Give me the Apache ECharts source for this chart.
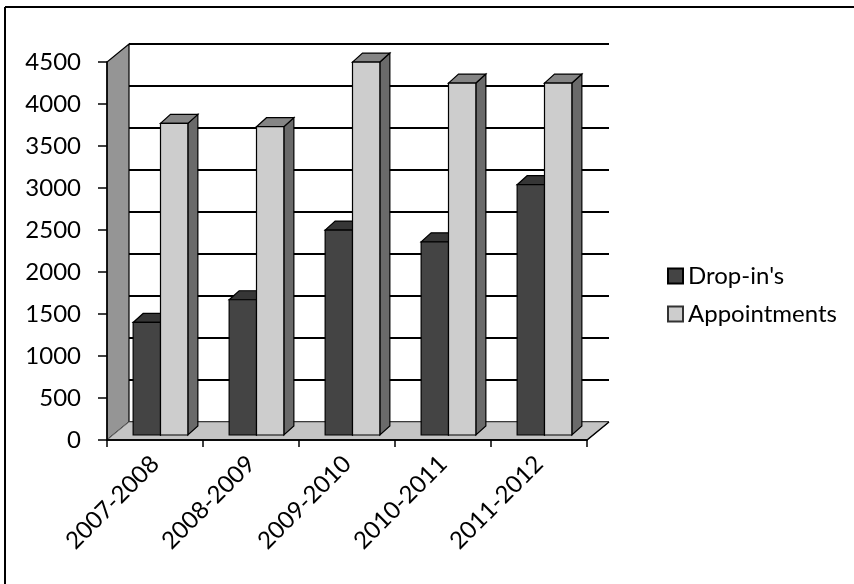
<!DOCTYPE html>
<html>
<head>
<meta charset="utf-8">
<script src="https://cdn.jsdelivr.net/npm/echarts@6/dist/echarts.min.js"></script>
<style>
html,body{margin:0;padding:0;background:#fff;}
#chart{width:854px;height:584px;}
</style>
</head>
<body>
<div id="chart"></div>
<script>
const categories = ['2007-2008', '2008-2009', '2009-2010', '2010-2011', '2011-2012'];
const dropIns = [1340, 1610, 2440, 2300, 2980];
const appointments = [3710, 3670, 4440, 4190, 4190];
const seriesNames = ["Drop-in's", 'Appointments'];
const yTickValues = [0, 500, 1000, 1500, 2000, 2500, 3000, 3500, 4000, 4500];

const FONT = 'Lato';
const DEPTH_X = 22, DEPTH_Y = -18;   // wall depth offset
const BAR_FX = 5.5, BAR_FY = -5;     // bar front-face offset from front plane
const BAR_DX = 10, BAR_DY = -9;      // bar depth

function wallsRender(params, api) {
  const cs = params.coordSys;
  const L = cs.x, R = cs.x + cs.width;
  const B = api.coord([0, 0])[1];
  const T = api.coord([0, yTickValues[yTickValues.length - 1]])[1];
  const children = [];
  children.push({
    type: 'polygon',
    shape: { points: [[L, B], [L + DEPTH_X, B + DEPTH_Y], [L + DEPTH_X, T + DEPTH_Y], [L, T]] },
    style: { fill: '#959595', stroke: '#000', lineWidth: 1.2 }
  });
  yTickValues.forEach(function (v) {
    const y = api.coord([0, v])[1] + DEPTH_Y;
    children.push({
      type: 'line',
      shape: { x1: L + DEPTH_X, y1: y, x2: R + DEPTH_X, y2: y },
      style: { stroke: '#000', lineWidth: v === yTickValues[yTickValues.length - 1] ? 2.2 : 1.8 }
    });
  });
  children.push({
    type: 'polygon',
    shape: { points: [[L, B], [R, B], [R + DEPTH_X, B + DEPTH_Y], [L + DEPTH_X, B + DEPTH_Y]] },
    style: { fill: '#c4c4c4', stroke: '#777', lineWidth: 1 }
  });
  children.push({
    type: 'polyline',
    shape: { points: [[L, B], [R, B], [R + DEPTH_X, B + DEPTH_Y]] },
    style: { stroke: '#000', lineWidth: 1.5, fill: null }
  });
  return { type: 'group', children: children };
}

function barRender(slot, frontColor, topColor, sideColor) {
  return function (params, api) {
    const cat = api.value(0), v = api.value(1);
    const top = api.coord([cat, v]);
    const base = api.coord([cat, 0]);
    const band = api.size([1, 0])[0];
    const w = band * 0.285;
    const cx = top[0] + BAR_FX;
    const x0 = slot === 0 ? cx - w : cx;
    const x1 = x0 + w;
    const yt = top[1] + BAR_FY;
    const yb = base[1] + BAR_FY;
    return {
      type: 'group',
      children: [
        {
          type: 'polygon',
          shape: { points: [[x1, yt], [x1 + BAR_DX, yt + BAR_DY], [x1 + BAR_DX, yb + BAR_DY], [x1, yb]] },
          style: { fill: sideColor, stroke: '#000', lineWidth: 1.2 }
        },
        {
          type: 'polygon',
          shape: { points: [[x0, yt], [x1, yt], [x1 + BAR_DX, yt + BAR_DY], [x0 + BAR_DX, yt + BAR_DY]] },
          style: { fill: topColor, stroke: '#000', lineWidth: 1.2 }
        },
        {
          type: 'rect',
          shape: { x: x0, y: yt, width: w, height: yb - yt },
          style: { fill: frontColor, stroke: '#000', lineWidth: 1.2 }
        }
      ]
    };
  };
}

const chart = echarts.init(document.getElementById('chart'), null, { renderer: 'canvas' });
chart.setOption({
  animation: false,
  backgroundColor: '#fff',
  textStyle: { fontFamily: FONT },
  graphic: [
    { type: 'line', shape: { x1: 5, y1: 7, x2: 854, y2: 7 }, style: { stroke: '#000', lineWidth: 2 } },
    { type: 'line', shape: { x1: 5, y1: 7, x2: 5, y2: 584 }, style: { stroke: '#000', lineWidth: 2 } }
  ],
  grid: { left: 107, right: 267, top: 62, bottom: 144, containLabel: false },
  legend: {
    data: seriesNames,
    orient: 'vertical',
    left: 662,
    top: 257,
    icon: 'rect',
    itemWidth: 15,
    itemHeight: 15,
    itemGap: 10,
    textStyle: { fontFamily: FONT, fontSize: 24, color: '#000', lineHeight: 28 }
  },
  xAxis: {
    type: 'category',
    data: categories,
    z: 10,
    axisLine: { show: true, lineStyle: { color: '#000', width: 1.5 } },
    axisTick: { show: true, length: 7, alignWithLabel: false, lineStyle: { color: '#000', width: 1.5 } },
    axisLabel: { rotate: 45, margin: 20, fontFamily: FONT, fontSize: 24, color: '#000', interval: 0 },
    splitLine: { show: false }
  },
  yAxis: {
    type: 'value',
    min: 0,
    max: 4500,
    interval: 500,
    z: 10,
    axisLine: { show: true, lineStyle: { color: '#000', width: 1.5 } },
    axisTick: { show: true, length: 9, lineStyle: { color: '#000', width: 1.5 } },
    axisLabel: { margin: 26, fontFamily: FONT, fontSize: 24, color: '#000', formatter: function (v) { return String(v); } },
    splitLine: { show: false }
  },
  series: [
    {
      name: 'walls',
      type: 'custom',
      renderItem: wallsRender,
      data: [[0, 0]],
      encode: { x: 0, y: 1 },
      silent: true,
      z: 1
    },
    {
      name: seriesNames[0],
      type: 'custom',
      renderItem: barRender(0, '#444444', '#363636', '#505050'),
      data: dropIns.map(function (v, i) { return [i, v]; }),
      encode: { x: 0, y: 1 },
      itemStyle: { color: '#444444', borderColor: '#000', borderWidth: 1 },
      z: 2
    },
    {
      name: seriesNames[1],
      type: 'custom',
      renderItem: barRender(1, '#cdcdcd', '#858585', '#6a6a6a'),
      data: appointments.map(function (v, i) { return [i, v]; }),
      encode: { x: 0, y: 1 },
      itemStyle: { color: '#cdcdcd', borderColor: '#333', borderWidth: 1 },
      z: 3
    }
  ]
});
</script>
</body>
</html>
